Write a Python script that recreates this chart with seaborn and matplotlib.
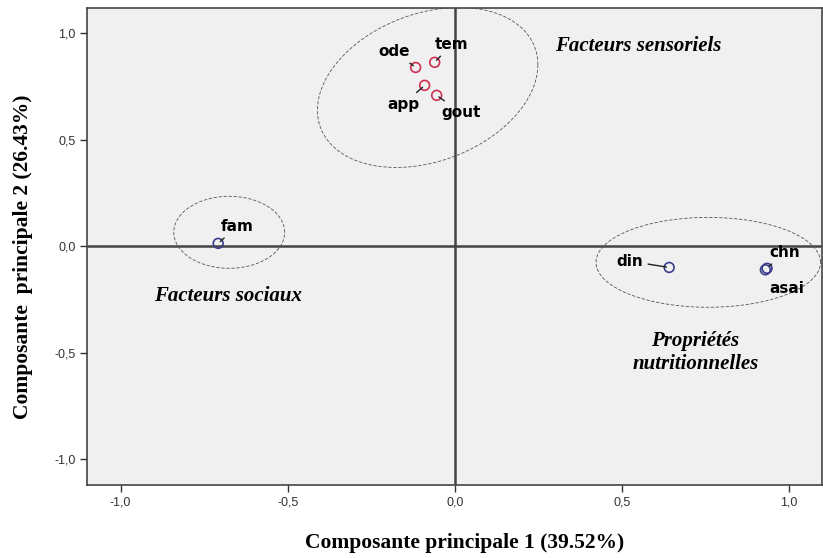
import numpy as np
import pandas as pd
import seaborn as sns
import matplotlib.pyplot as plt

# loadings
variables = ['ode', 'tem', 'app', 'gout', 'fam', 'din', 'chn', 'asai']
pc1 = [-0.117, -0.060, -0.090, -0.054, -0.708, 0.642, 0.935, 0.930]
pc2 = [0.840, 0.864, 0.756, 0.709, 0.014, -0.099, -0.103, -0.110]
groups = ['sens', 'sens', 'sens', 'sens', 'other', 'other', 'other', 'other']

# where each label sits
label_x = [-0.180, -0.009, -0.153, 0.018, -0.651, 0.525, 0.987, 0.993]
label_y = [0.915, 0.948, 0.667, 0.629, 0.094, -0.070, -0.028, -0.197]
leader = [True, True, True, True, True, True, True, False]

tick_values = [-1.0, -0.5, 0.0, 0.5, 1.0]
tick_labels = ['-1,0', '-0,5', '0,0', '0,5', '1,0']


def draw_ellipse(ax, cx, cy, u, v):
    # ellipse given by centre and two semi-axis vectors (data units)
    t = np.linspace(0, 2 * np.pi, 300)
    xs = cx + u[0] * np.cos(t) + v[0] * np.sin(t)
    ys = cy + u[1] * np.cos(t) + v[1] * np.sin(t)
    ax.plot(xs, ys, linestyle=(0, (4, 2)), color='#555555', linewidth=0.6)


def main():
    df = pd.DataFrame({'Variable': variables, 'PC1': pc1, 'PC2': pc2, 'Groupe': groups})

    sns.set_style('white')
    plt.rcParams['text.color'] = 'black'
    fig = plt.figure(figsize=(8.23, 5.58), dpi=100)
    ax = fig.add_axes([0.106, 0.131, 0.893, 0.855])
    ax.set_facecolor('#F0F0F0')

    ax.axhline(0, color='#444444', linewidth=1.8, zorder=1)
    ax.axvline(0, color='#444444', linewidth=1.8, zorder=1)

    sns.scatterplot(data=df, x='PC1', y='PC2', hue='Groupe',
                    palette={'sens': '#D03050', 'other': '#3C3C8C'},
                    marker='o', s=50, linewidth=1.2,
                    legend=False, ax=ax, zorder=3)
    # open circles
    for coll in ax.collections:
        coll.set_facecolor('none')
        cols = [('#D03050' if g == 'sens' else '#3C3C8C') for g in groups]
        coll.set_edgecolor(cols)

    for name, x, y, tx, ty, ld in zip(variables, pc1, pc2, label_x, label_y, leader):
        props = dict(arrowstyle='-', color='#222222', lw=1.0, shrinkA=1, shrinkB=2) if ld else None
        ax.annotate(name, xy=(x, y), xytext=(tx, ty),
                    ha='center', va='center', fontsize=11, fontweight='bold',
                    family='DejaVu Sans', color='black',
                    arrowprops=props, zorder=4)

    # group ellipses
    draw_ellipse(ax, -0.081, 0.746, (0.330, 0.107), (0.0, 0.360))
    draw_ellipse(ax, -0.675, 0.066, (0.166, 0.0), (0.0, 0.169))
    draw_ellipse(ax, 0.759, -0.075, (0.336, 0.0), (0.0, 0.211))

    serif = 'Liberation Serif'
    ax.text(0.55, 0.94, 'Facteurs sensoriels', fontsize=15, fontstyle='italic',
            fontweight='bold', family=serif, ha='center', va='center', color='black')
    ax.text(-0.68, -0.235, 'Facteurs sociaux', fontsize=15, fontstyle='italic',
            fontweight='bold', family=serif, ha='center', va='center', color='black')
    ax.text(0.72, -0.498, 'Propriétés\nnutritionnelles', fontsize=15, fontstyle='italic',
            fontweight='bold', family=serif, ha='center', va='center', linespacing=1.2,
            color='black')

    ax.set_xlim(-1.1, 1.1)
    ax.set_ylim(-1.12, 1.12)
    ax.set_xticks(tick_values)
    ax.set_xticklabels(tick_labels)
    ax.set_yticks(tick_values)
    ax.set_yticklabels(tick_labels)
    ax.tick_params(direction='out', length=5, width=1, color='#333333',
                   labelsize=9, labelcolor='#333333', bottom=True, left=True)
    for lab in ax.get_xticklabels() + ax.get_yticklabels():
        lab.set_family('Liberation Sans')
    for sp in ax.spines.values():
        sp.set_color('#444444')
        sp.set_linewidth(1.2)

    ax.set_xlabel('Composante principale 1 (39.52%)', fontsize=15.5, fontweight='bold',
                  family=serif, color='black')
    ax.set_ylabel('Composante  principale 2 (26.43%)', fontsize=15.5, fontweight='bold',
                  family=serif, color='black')
    ax.xaxis.set_label_coords(0.513, -0.1)
    ax.yaxis.set_label_coords(-0.074, 0.478)

    fig.savefig('out.png', dpi=100, facecolor='white')


if __name__ == "__main__":
    main()
